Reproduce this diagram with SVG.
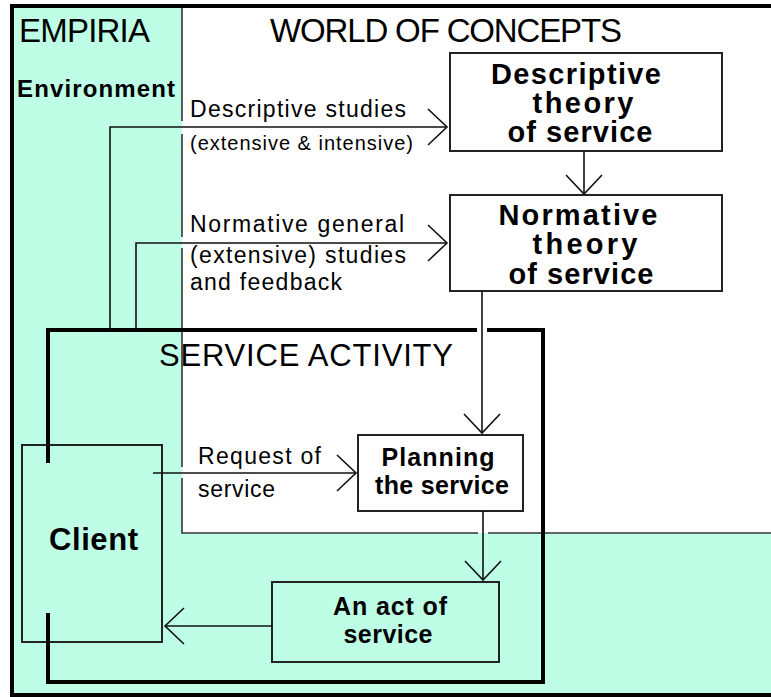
<svg xmlns="http://www.w3.org/2000/svg" width="771" height="697" viewBox="0 0 771 697">
<style>
text{font-family:"Liberation Sans",Arial,sans-serif;fill:#000}
.big{font-size:33px}
.lbl{font-size:23px}
.sm{font-size:20px}
.bt{font-size:29px;font-weight:bold;text-anchor:middle}
.bs{font-size:25px;font-weight:bold;text-anchor:middle}
.box{fill:#fff;stroke:#222;stroke-width:2}
.cbox{fill:#BEFEE6;stroke:#222;stroke-width:2}
.ln{fill:none;stroke:#111;stroke-width:1.6}
.thick{fill:none;stroke:#000;stroke-width:4}
</style>
<defs>
<marker id="ah" markerUnits="userSpaceOnUse" viewBox="-22 -21 24 42" refX="0" refY="0" markerWidth="24" markerHeight="42" orient="auto">
<path d="M-19,-18 L0,0 L-19,18" fill="none" stroke="#111" stroke-width="1.6"/>
</marker>
</defs>
<rect x="0" y="0" width="771" height="697" fill="#fff"/>
<g id="empiria">
<rect x="12" y="6" width="770" height="689" fill="#BEFEE6" stroke="#000" stroke-width="4"/>
<text class="big" x="19" y="42" textLength="131">EMPIRIA</text>
<text x="17" y="97" font-size="24" font-weight="bold" textLength="158">Environment</text>
</g>
<g id="world">
<path d="M182,8 V533 H771 V8 Z" fill="#fff"/>
<path d="M182,8 V121 M182,134 V237 M182,248 V467 M182,478 V533 H478 M488,533 H771" fill="none" stroke="#333" stroke-width="1.6"/>
<text class="big" x="270" y="42" textLength="352">WORLD OF CONCEPTS</text>
</g>
<g id="descriptive-theory">
<rect class="box" x="450" y="53" width="272" height="98"/>
<text class="bt" x="576" y="84" textLength="170">Descriptive</text>
<text class="bt" x="583" y="113" textLength="101">theory</text>
<text class="bt" x="580" y="142" textLength="145">of service</text>
</g>
<g id="normative-theory">
<rect class="box" x="450" y="195" width="272" height="96"/>
<text class="bt" x="578" y="225" textLength="159">Normative</text>
<text class="bt" x="585" y="254" textLength="105">theory</text>
<text class="bt" x="581" y="284" textLength="145">of service</text>
</g>
<g id="planning">
<rect class="box" x="358" y="435" width="165" height="76"/>
<text class="bs" x="438" y="466" textLength="113">Planning</text>
<text class="bs" x="442" y="494" textLength="134">the service</text>
</g>
<g id="client">
<rect class="cbox" x="22" y="445" width="140" height="197"/>
<text x="49" y="550" font-size="31" font-weight="bold" textLength="89">Client</text>
</g>
<g id="act">
<rect class="cbox" x="272" y="582" width="227" height="80"/>
<text class="bs" x="390" y="615" textLength="114">An act of</text>
<text class="bs" x="388" y="643" textLength="89">service</text>
</g>
<g id="service-activity">
<path class="thick" d="M48,463 V330 H477 M487,330 H543 V682 H48 V613"/>
<text x="159" y="366" font-size="31" textLength="294">SERVICE ACTIVITY</text>
</g>
<g id="connectors">
<path class="ln" d="M110,330 V127 H447" marker-end="url(#ah)"/>
<path class="ln" d="M136,330 V243 H447" marker-end="url(#ah)"/>
<path class="ln" d="M584,151 V194" marker-end="url(#ah)"/>
<path class="ln" d="M482,291 V433" marker-end="url(#ah)"/>
<path class="ln" d="M153,473 H356" marker-end="url(#ah)"/>
<path class="ln" d="M483,511 V580" marker-end="url(#ah)"/>
<path class="ln" d="M272,626 H165" marker-end="url(#ah)"/>
<text class="lbl" x="190" y="117" textLength="216">Descriptive studies</text>
<text class="sm" x="190" y="150" textLength="223">(extensive &amp; intensive)</text>
<text class="lbl" x="190" y="232" textLength="214">Normative general</text>
<text class="lbl" x="190" y="263" textLength="216">(extensive) studies</text>
<text class="lbl" x="190" y="290" textLength="152">and feedback</text>
<text class="lbl" x="198" y="464" textLength="123">Request of</text>
<text class="lbl" x="198" y="497" textLength="77">service</text>
</g>
</svg>
